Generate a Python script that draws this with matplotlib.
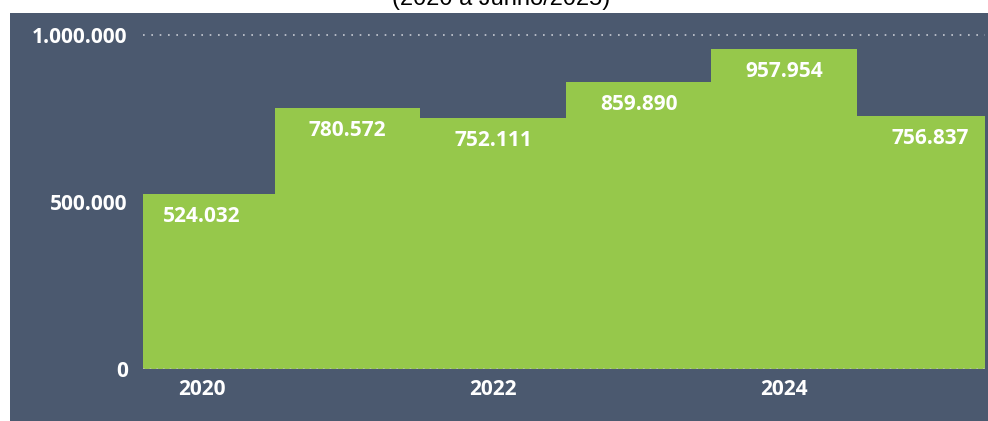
import matplotlib
matplotlib.use("Agg")
import matplotlib.pyplot as plt
from matplotlib.patches import Rectangle

years = [2020, 2021, 2022, 2023, 2024, 2025]
values = [524032, 780572, 752111, 859890, 957954, 756837]
value_labels = ["524.032", "780.572", "752.111", "859.890", "957.954", "756.837"]
tick_years = [2020, 2022, 2024]
y_ticks = [0, 500000, 1000000]
y_tick_labels = ["0", "500.000", "1.000.000"]

panel = "#4b596f"
green = "#96c84b"

W, H = 988, 421
fig = plt.figure(figsize=(W / 100, H / 100), dpi=100)
fig.patch.set_facecolor("white")

# dark panel behind the chart
fig.add_artist(Rectangle((10 / W, 0), 1 - 10 / W, (H - 13) / H,
                         transform=fig.transFigure, facecolor=panel,
                         edgecolor="none", zorder=0))

# title, cut by the top edge like in the source
fig.text(501 / W, (H + 1) / H, "(2020 a Junho/2025)", ha="center", va="center",
         fontsize=17, family="Liberation Sans", color="black")

ax = fig.add_axes([143 / W, (H - 369) / H, (985 - 143) / W, (369 - 20) / H])
ax.set_facecolor("none")
ax.bar(years, values, width=1.0, color=green, edgecolor="none", zorder=2)
# first and last bars are clipped by the axis range
ax.set_xlim(2019.595, 2025.38)
ax.set_ylim(0, 1.045e6)

ax.axhline(1000000, color="#c8ccd4", linestyle=(0, (1, 4)), linewidth=1.2, zorder=1)
ax.axhline(0, color="#b9c0b0", linestyle=(0, (1, 3)), linewidth=1.2, zorder=3)

for x, v, lab in zip(years, values, value_labels):
    ax.annotate(lab, (x, v), xytext=(0, -16), textcoords="offset points",
                ha="center", va="center", color="white", fontsize=15,
                fontweight="bold", family="Open Sans", zorder=4)

ax.set_xticks(tick_years)
ax.set_xticklabels([str(y) for y in tick_years])
ax.set_yticks(y_ticks)
ax.set_yticklabels(y_tick_labels)
ax.tick_params(length=0, colors="white", labelsize=15)
ax.tick_params(axis="y", pad=11)
ax.tick_params(axis="x", pad=7)
for lab in ax.get_xticklabels() + ax.get_yticklabels():
    lab.set_fontweight("bold")
    lab.set_family("Open Sans")
for s in ax.spines.values():
    s.set_visible(False)

fig.savefig("out.png", dpi=100)
